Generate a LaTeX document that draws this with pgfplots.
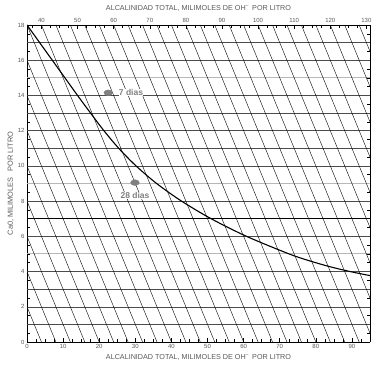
\documentclass[border=0pt]{standalone}
\usepackage{fontspec}
\setmainfont{Liberation Sans}
\usepackage{pgfplots}
\pgfplotsset{compat=1.18}
\definecolor{txtgray}{gray}{0.35}
\definecolor{gridd}{gray}{0.3}
\definecolor{gridl}{gray}{0.72}
\definecolor{ptgray}{gray}{0.5}
\begin{document}
\begin{tikzpicture}[x=1pt,y=1pt]
\begin{axis}[
  at={(0,0)}, anchor=south west,
  scale only axis, width=343pt, height=317pt,
  xmin=0, xmax=95, ymin=0, ymax=18,
  axis line style={black, line width=0.9pt},
  axis x line*=bottom, axis y line*=box,
  clip=true,
  xtick={0,10,...,90},
  minor xtick={2.5,5,...,92.5},
  ytick={0,2,...,18},
  minor ytick={0.5,1,...,17.5},
  tick align=inside,
  major tick length=4pt, minor tick length=3pt,
  tick style={black, line width=0.5pt},
  ticklabel style={font=\fontsize{6}{7}\selectfont, text=txtgray},
  /pgf/number format/assume math mode=true,
  xlabel={ALCALINIDAD TOTAL, MILIMOLES DE OH\textsuperscript{--}\, POR LITRO},
  xlabel style={font=\fontsize{7.2}{8}\selectfont, text=txtgray, yshift=1pt},
  ylabel={Ca0, MILIMOLES\,\,\, POR LITRO},
  ylabel style={font=\fontsize{7.4}{8}\selectfont, text=txtgray, yshift=-3pt},
  xticklabel style={yshift=1pt},
  yticklabel style={xshift=1pt},
]
% horizontal grid lines
\pgfplotsinvokeforeach{1,2,3,4,6,8,10,11,12,13,14,16,17}{
  \addplot[gridd, line width=0.5pt] coordinates {(0,#1) (95,#1)};
}
\pgfplotsinvokeforeach{5,9,15}{
  \addplot[gridl, line width=0.9pt] coordinates {(0,#1) (95,#1)};
}
\addplot[black, line width=1pt] coordinates {(0,7) (95,7)};
% diagonal lines x + 2y = c
\pgfplotsinvokeforeach{4,8,...,128}{
  \addplot[black, line width=0.4pt] coordinates {({#1-36},18) ({#1},0)};
}
% curve
\addplot[black, line width=1.1pt, smooth] coordinates {
(0,18) (3.5,17) (7.0,16) (10.5,15) (14.0,14) (17.6,13) (21.3,12) (25.4,11)
(30.2,10) (35.9,9) (42.8,8) (51.0,7) (60.8,6) (72.6,5) (78.4,4.6) (84,4.27)
(89.5,4.0) (95,3.77)
};
% points
\addplot[only marks, mark=*, mark options={fill=ptgray, draw=ptgray, xscale=1.5, yscale=1}, mark size=2.9pt] coordinates {(22.5,14.15) (29.9,9.05)};
\node[fill=white, inner sep=0.4pt, anchor=west, font=\bfseries\fontsize{8.5}{9}\selectfont, text=ptgray] at (axis cs:25.3,14.15) {7 dias};
\node[fill=white, inner sep=0.4pt, font=\bfseries\fontsize{8.5}{9}\selectfont, text=ptgray] at (axis cs:29.9,8.3) {28 dias};
\end{axis}
\begin{axis}[
  at={(0,0)}, anchor=south west,
  scale only axis, width=343pt, height=317pt,
  xmin=36, xmax=131, ymin=0, ymax=18,
  axis x line*=top, axis y line=none,
  axis line style={black, line width=0.9pt},
  xtick={40,50,...,130},
  minor xtick={37.5,40,...,130},
  tick align=inside,
  major tick length=4pt, minor tick length=3pt,
  tick style={black, line width=0.5pt},
  ticklabel style={font=\fontsize{6}{7}\selectfont, text=txtgray},
  /pgf/number format/assume math mode=true,
  xlabel={ALCALINIDAD TOTAL, MILIMOLES DE OH\textsuperscript{--}\, POR LITRO},
  xlabel style={font=\fontsize{7.2}{8}\selectfont, text=txtgray, yshift=0pt},
  xticklabel style={yshift=-1pt},
]
\addplot[draw=none] coordinates {(40,0)};
\end{axis}
\pgfresetboundingbox
\path[use as bounding box] (-27pt,-27pt) rectangle (350pt,342pt);
\end{tikzpicture}
\end{document}
